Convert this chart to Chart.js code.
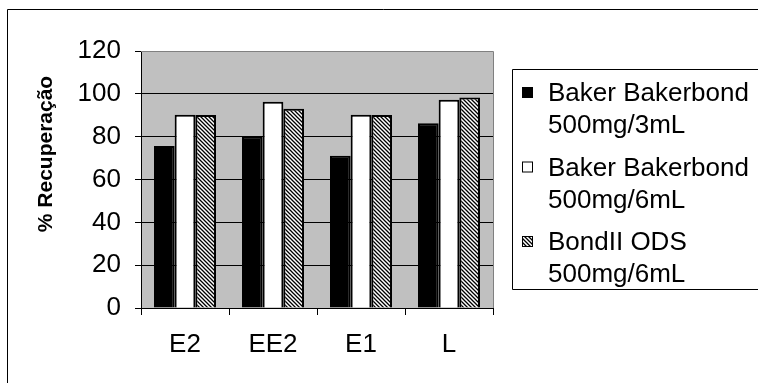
<!DOCTYPE html>
<html>
<head>
<meta charset="utf-8">
<script src="https://cdn.jsdelivr.net/npm/chart.js@4/dist/chart.umd.min.js"></script>
<style>
  html, body { margin: 0; padding: 0; background: #fff; }
  #wrap { width: 758px; height: 383px; }
</style>
</head>
<body>
<div id="wrap"><canvas id="c" width="758" height="383"></canvas></div>
<script>
// Recovery (%) per analyte for three SPE cartridges
const categories = ['E2', 'EE2', 'E1', 'L'];
const seriesLabels = [
  ['Baker Bakerbond', '500mg/3mL'],
  ['Baker Bakerbond', '500mg/6mL'],
  ['BondII ODS', '500mg/6mL']
];
const bakerbond3mL = [75.6, 80.0, 71.1, 86.3];
const bakerbond6mL = [90.2, 96.3, 90.2, 97.2];
const bondIIods   = [90.1, 93.0, 90.1, 98.3];
const yTicks = [0, 20, 40, 60, 80, 100, 120];
const yTitle = '% Recuperação';

const FONT = '"Liberation Sans", Arial, sans-serif';
const TXT = 26;

// diagonal hatch fill
function makeHatch() {
  const s = 4;
  const pc = document.createElement('canvas');
  pc.width = s; pc.height = s;
  const g = pc.getContext('2d');
  g.fillStyle = '#fff';
  g.fillRect(0, 0, s, s);
  g.strokeStyle = '#000';
  g.lineWidth = 1.3;
  g.beginPath();
  g.moveTo(-1, -1); g.lineTo(s + 1, s + 1);
  g.moveTo(-1, s - 1); g.lineTo(1, s + 1);
  g.moveTo(s - 1, -1); g.lineTo(s + 1, 1);
  g.stroke();
  return document.getElementById('c').getContext('2d').createPattern(pc, 'repeat');
}
const hatch = makeHatch();
const fills = ['#000000', '#ffffff', hatch];

const frame = {
  id: 'frame',
  beforeDraw(chart) {
    const { ctx, chartArea: a } = chart;
    ctx.save();
    ctx.fillStyle = '#ffffff';
    ctx.fillRect(0, 0, chart.width, chart.height);
    ctx.fillStyle = '#c0c0c0';
    ctx.fillRect(a.left, a.top, a.right - a.left, a.bottom - a.top);
    ctx.restore();
  },
  beforeDatasetsDraw(chart) {
    const { ctx, chartArea: a } = chart;
    ctx.save();
    ctx.strokeStyle = '#808080';
    ctx.lineWidth = 1;
    ctx.beginPath();
    ctx.moveTo(Math.round(a.left), Math.round(a.top) + 0.5);
    ctx.lineTo(Math.round(a.right) + 0.5, Math.round(a.top) + 0.5);
    ctx.lineTo(Math.round(a.right) + 0.5, Math.round(a.bottom));
    ctx.stroke();
    ctx.restore();
  },
  afterDraw(chart) {
    const { ctx } = chart;
    ctx.save();
    // outer chart border
    ctx.strokeStyle = '#000';
    ctx.lineWidth = 1;
    ctx.beginPath();
    ctx.moveTo(7.5, chart.height + 2);
    ctx.lineTo(7.5, 9.5);
    ctx.lineTo(chart.width + 2, 9.5);
    ctx.stroke();

    // y axis title
    ctx.fillStyle = '#000';
    ctx.font = 'bold 21px ' + FONT;
    ctx.textAlign = 'center';
    ctx.textBaseline = 'middle';
    ctx.translate(46, 154);
    ctx.rotate(-Math.PI / 2);
    ctx.fillText(yTitle, 0, 0);
    ctx.setTransform(1, 0, 0, 1, 0, 0);

    // legend box
    const lx = 512.5, ly = 69.5, lb = 289.5;
    ctx.strokeStyle = '#000';
    ctx.beginPath();
    ctx.moveTo(chart.width + 2, ly);
    ctx.lineTo(lx, ly);
    ctx.lineTo(lx, lb);
    ctx.lineTo(chart.width + 2, lb);
    ctx.stroke();

    ctx.font = TXT + 'px ' + FONT;
    ctx.textAlign = 'left';
    ctx.textBaseline = 'middle';
    chart.data.datasets.forEach((ds, i) => {
      const cy = 93 + i * 74.5;
      ctx.fillStyle = ds.backgroundColor;
      ctx.fillRect(522, cy - 6, 11, 11);
      ctx.strokeStyle = '#000';
      ctx.strokeRect(522.5, cy - 5.5, 10, 10);
      ctx.fillStyle = '#000';
      ds.label.forEach((line, k) => ctx.fillText(line, 548, cy + 1 + k * 32));
    });
    ctx.restore();
  }
};

new Chart(document.getElementById('c'), {
  type: 'bar',
  data: {
    labels: categories,
    datasets: [bakerbond3mL, bakerbond6mL, bondIIods].map((vals, i) => ({
      label: seriesLabels[i],
      data: vals,
      backgroundColor: fills[i],
      borderColor: '#000',
      borderWidth: 2,
      borderSkipped: 'bottom',
      categoryPercentage: 0.705,
      barPercentage: 1.0
    }))
  },
  options: {
    responsive: false,
    animation: false,
    events: [],
    layout: { padding: { top: 51, right: 265, left: 0, bottom: 0 } },
    plugins: { legend: { display: false }, tooltip: { enabled: false } },
    scales: {
      x: {
        grid: { display: true, drawOnChartArea: false, drawTicks: true, tickLength: 7, color: '#000', offset: true },
        border: { display: true, color: '#000', width: 1 },
        ticks: { color: '#000', font: { family: FONT, size: TXT }, padding: 14 },
        afterFit(scale) { scale.height = 383 - 308; }
      },
      y: {
        min: 0,
        max: 120,
        afterBuildTicks(scale) { scale.ticks = yTicks.map(v => ({ value: v })); },
        grid: { color: '#000', drawTicks: true, tickLength: 6 },
        border: { display: true, color: '#000', width: 1 },
        ticks: { color: '#000', font: { family: FONT, size: TXT }, padding: 14 },
        afterFit(scale) { scale.width = 141; }
      }
    }
  },
  plugins: [frame]
});
</script>
</body>
</html>
